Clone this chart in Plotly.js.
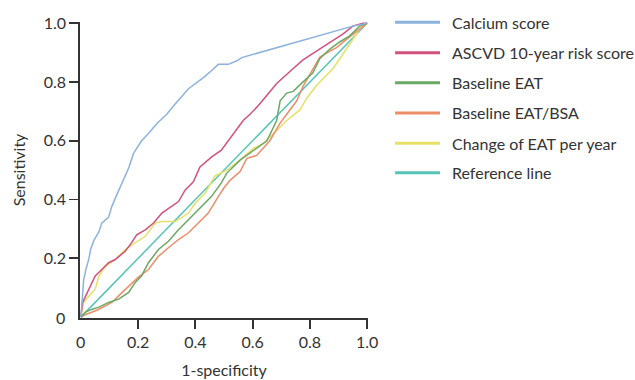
<!DOCTYPE html>
<html>
<head>
<meta charset="utf-8">
<script src="https://cdn.plot.ly/plotly-3.0.1.min.js"></script>
<style>html,body{margin:0;padding:0;background:#fff;}#chart{width:635px;height:380px;}</style>
</head>
<body>
<div id="chart"></div>
<script>
// ROC curve data (1-specificity, sensitivity)
var calciumX = [0, 0.005, 0.01, 0.017, 0.028, 0.034, 0.045, 0.063, 0.073, 0.097, 0.108, 0.125, 0.138, 0.155, 0.167, 0.184, 0.212, 0.236, 0.265, 0.3, 0.33, 0.376, 0.4, 0.428, 0.456, 0.48, 0.515, 0.545, 0.562, 0.95, 1.0];
var calciumY = [0, 0.08, 0.128, 0.16, 0.198, 0.23, 0.26, 0.29, 0.32, 0.34, 0.376, 0.415, 0.444, 0.477, 0.507, 0.557, 0.6, 0.625, 0.658, 0.69, 0.726, 0.777, 0.794, 0.815, 0.838, 0.86, 0.86, 0.872, 0.883, 0.99, 1.0];

var ascvdX = [0, 0.003, 0.006, 0.02, 0.034, 0.05, 0.073, 0.097, 0.12, 0.155, 0.175, 0.195, 0.225, 0.254, 0.283, 0.312, 0.341, 0.364, 0.393, 0.416, 0.457, 0.49, 0.533, 0.567, 0.591, 0.62, 0.65, 0.684, 0.735, 0.776, 0.823, 0.87, 0.915, 0.95, 0.985, 1.0];
var ascvdY = [0, 0.03, 0.05, 0.078, 0.106, 0.14, 0.162, 0.185, 0.196, 0.224, 0.25, 0.28, 0.297, 0.32, 0.354, 0.372, 0.393, 0.432, 0.46, 0.511, 0.545, 0.567, 0.625, 0.669, 0.69, 0.72, 0.755, 0.795, 0.84, 0.875, 0.905, 0.936, 0.963, 0.99, 1.0, 1.0];

var eatX = [0, 0.016, 0.04, 0.063, 0.097, 0.132, 0.167, 0.19, 0.212, 0.236, 0.271, 0.306, 0.341, 0.376, 0.41, 0.456, 0.49, 0.51, 0.556, 0.602, 0.65, 0.684, 0.696, 0.719, 0.742, 0.765, 0.81, 0.835, 0.87, 0.904, 0.939, 0.974, 1.0];
var eatY = [0, 0.017, 0.027, 0.034, 0.05, 0.061, 0.084, 0.118, 0.14, 0.185, 0.23, 0.258, 0.297, 0.331, 0.365, 0.41, 0.456, 0.49, 0.534, 0.567, 0.6, 0.669, 0.736, 0.762, 0.768, 0.79, 0.83, 0.88, 0.912, 0.936, 0.957, 0.99, 1.0];

var eatBsaX = [0, 0.02, 0.06, 0.108, 0.14, 0.167, 0.2, 0.236, 0.271, 0.306, 0.341, 0.376, 0.41, 0.445, 0.48, 0.5, 0.522, 0.556, 0.58, 0.614, 0.66, 0.696, 0.719, 0.754, 0.776, 0.81, 0.835, 0.87, 0.893, 0.928, 0.962, 0.985, 1.0];
var eatBsaY = [0, 0.01, 0.025, 0.05, 0.08, 0.106, 0.135, 0.162, 0.207, 0.236, 0.264, 0.287, 0.32, 0.354, 0.41, 0.44, 0.466, 0.495, 0.54, 0.55, 0.6, 0.66, 0.69, 0.736, 0.785, 0.845, 0.885, 0.905, 0.917, 0.945, 0.97, 0.99, 1.0];

var eatChangeX = [0, 0.01, 0.028, 0.05, 0.063, 0.086, 0.12, 0.155, 0.19, 0.225, 0.26, 0.283, 0.33, 0.376, 0.4, 0.434, 0.468, 0.51, 0.556, 0.602, 0.637, 0.684, 0.719, 0.765, 0.788, 0.823, 0.858, 0.88, 0.904, 0.928, 0.95, 0.974, 1.0];
var eatChangeY = [0, 0.05, 0.072, 0.095, 0.14, 0.173, 0.196, 0.23, 0.253, 0.275, 0.32, 0.325, 0.325, 0.354, 0.388, 0.422, 0.48, 0.5, 0.534, 0.574, 0.59, 0.635, 0.669, 0.705, 0.743, 0.788, 0.822, 0.845, 0.878, 0.912, 0.946, 0.98, 1.0];

var refX = [0, 1];
var refY = [0, 1];

var seriesNames = ["Calcium score", "ASCVD 10-year risk score", "Baseline EAT", "Baseline EAT/BSA", "Change of EAT per year", "Reference line"];
var seriesColors = ["#8cb2de", "#d2517a", "#6aa865", "#ef8c68", "#e6e065", "#55c4b6"];
var tickVals = [0.2, 0.4, 0.6, 0.8, 1.0];
var tickLabels = ["0.2", "0.4", "0.6", "0.8", "1.0"];
var originLabel = "0";

var xs = [calciumX, ascvdX, eatX, eatBsaX, eatChangeX, refX];
var ys = [calciumY, ascvdY, eatY, eatBsaY, eatChangeY, refY];

var traces = [];
var order = [5, 4, 3, 2, 1, 0];
order.forEach(function (i) {
  traces.push({
    type: "scatter", mode: "lines",
    x: xs[i], y: ys[i], name: seriesNames[i],
    line: {color: seriesColors[i], width: 1.5},
    showlegend: false, hoverinfo: "skip"
  });
});

var font = "Lato, 'Noto Sans', sans-serif";
var txtColor = "#333";
var shapes = [], annotations = [];
var legendY = [0.999, 0.896, 0.795, 0.6926, 0.590, 0.491];
seriesNames.forEach(function (name, i) {
  shapes.push({type: "line", xref: "paper", yref: "paper",
    x0: 1.094, x1: 1.25, y0: legendY[i], y1: legendY[i],
    line: {color: seriesColors[i], width: 3}});
  annotations.push({xref: "paper", yref: "paper", x: 1.285, y: legendY[i],
    xanchor: "left", yanchor: "middle", showarrow: false,
    text: name, font: {family: font, size: 16, color: txtColor}});
});
// "0" labels at the origin of both axes (no tick marks there in the reference)
annotations.push({xref: "x", yref: "paper", x: 0, y: 0, yshift: -23,
  xanchor: "center", yanchor: "middle", showarrow: false,
  text: originLabel, font: {family: font, size: 16, color: txtColor}});
annotations.push({xref: "paper", yref: "y", x: 0, y: 0, xshift: -20,
  xanchor: "center", yanchor: "middle", showarrow: false,
  text: originLabel, font: {family: font, size: 16, color: txtColor}});

var axisCommon = {
  tickvals: tickVals, ticktext: tickLabels,
  ticks: "outside", ticklen: 9, tickwidth: 1.8, tickcolor: "#333",
  showline: true, linecolor: "#333", linewidth: 1.8,
  showgrid: false, zeroline: false, fixedrange: true,
  tickfont: {family: font, size: 16, color: txtColor}
};

var layout = {
  width: 635, height: 380,
  margin: {l: 80, r: 267, t: 22, b: 62},
  paper_bgcolor: "#fff", plot_bgcolor: "#fff",
  showlegend: false,
  xaxis: Object.assign({}, axisCommon, {
    range: [-0.003, 1.003],
    title: {text: "1-specificity", font: {family: font, size: 16, color: txtColor}, standoff: 15}
  }),
  yaxis: Object.assign({}, axisCommon, {
    range: [-0.003, 1.004],
    title: {text: "Sensitivity", font: {family: font, size: 16, color: txtColor}, standoff: 14}
  }),
  shapes: shapes,
  annotations: annotations
};

Plotly.newPlot("chart", traces, layout, {displayModeBar: false, staticPlot: true});
</script>
</body>
</html>
